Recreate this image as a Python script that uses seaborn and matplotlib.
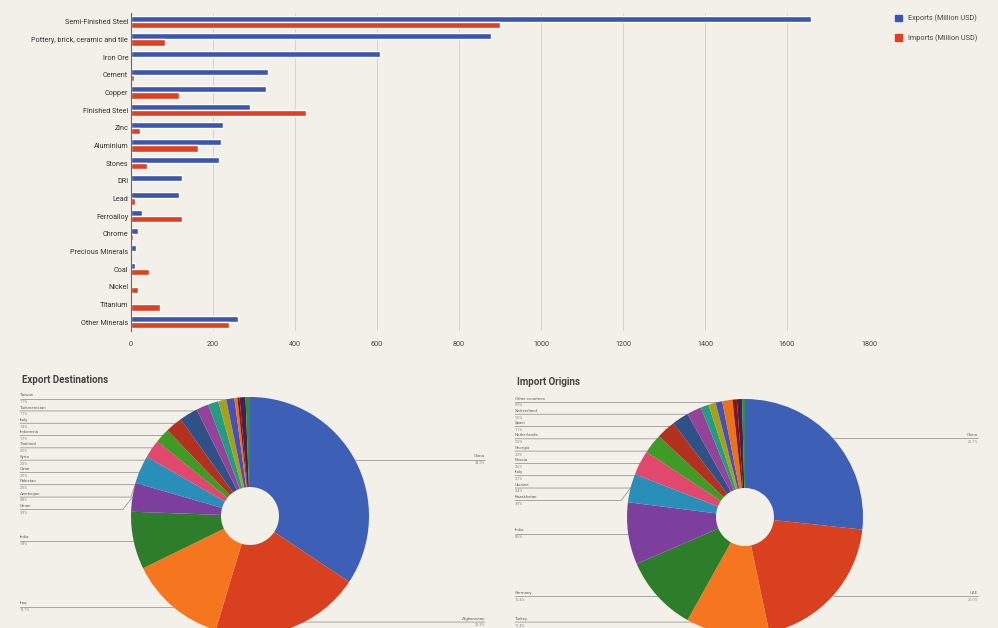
import numpy as np
import pandas as pd
import matplotlib
matplotlib.use("Agg")
import matplotlib.pyplot as plt
from matplotlib.patches import Patch
import seaborn as sns

# --- bar chart data (million USD) ---
minerals = ["Semi-Finished Steel", "Pottery, brick, ceramic and tile", "Iron Ore", "Cement",
            "Copper", "Finished Steel", "Zinc", "Aluminium", "Stones", "DRI", "Lead",
            "Ferroalloy", "Chrome", "Precious Minerals", "Coal", "Nickel", "Titanium",
            "Other Minerals"]
exports_musd = [1658, 878, 607, 334, 329, 290, 224, 219, 215, 124, 117, 27, 17, 12, 10, 0, 0, 261]
imports_musd = [900, 83, 0, 7, 117, 427, 22, 163, 39, 0, 10, 124, 5, 0, 44, 17, 71, 239]
series_names = ["Exports (Million USD)", "Imports (Million USD)"]
x_ticks = [0, 200, 400, 600, 800, 1000, 1200, 1400, 1600, 1800]

# --- pie data (share, %) ---
export_countries = ["China", "Afghanistan", "Iraq", "India", "Oman", "Azerbaijan", "Pakistan",
                    "Qatar", "Syria", "Thailand", "Indonesia", "Italy", "Turkmenistan", "Taiwan",
                    "Armenia", "Kuwait", "Lebanon", "Others"]
export_share = [34.3, 20.3, 13.1, 7.8, 3.9, 3.8, 2.5, 2.0, 2.3, 2.5, 1.7, 1.4, 1.1, 1.1,
                0.4, 0.3, 0.8, 0.6]
import_countries = ["China", "UAE", "Turkey", "Germany", "India", "Kazakhstan", "Ukraine",
                    "Italy", "Russia", "Georgia", "Netherlands", "Spain", "Switzerland",
                    "Other countries", "Brazil", "Japan", "South Korea", "France"]
import_share = [26.7, 20.0, 11.4, 10.4, 8.5, 3.9, 3.4, 2.7, 2.6, 2.3, 2.0, 1.1, 1.0, 0.9,
                1.4, 0.6, 0.7, 0.4]
n_pie_labels = 14

c_exp = "#3b56b0"
c_imp = "#e0401f"
pie_colors = ["#3d5fb5", "#d9401f", "#f5761f", "#2e7d2a", "#7d3f9e", "#2a8fb8", "#e2476e",
              "#3f9a26", "#b3321f", "#2f5187", "#944399", "#249c84", "#a5a21a", "#4a4fb5",
              "#e8731a", "#8b1510", "#4a1d50", "#2f8a4e"]
bg = "#f3f0e9"

sns.set_theme(style="white")
plt.rcParams["font.family"] = ["Roboto", "DejaVu Sans"]

W, H = 998, 628
fig = plt.figure(figsize=(W / 100, H / 100), dpi=100, facecolor=bg)


def px_rect(x0, y0, x1, y1):
    return [x0 / W, 1 - y1 / H, (x1 - x0) / W, (y1 - y0) / H]


# ---------------- bar chart ----------------
ax = fig.add_axes(px_rect(131, 13, 869, 331))
ax.set_facecolor(bg)
df = pd.DataFrame({
    "mineral": minerals * 2,
    "value": exports_musd + imports_musd,
    "series": [series_names[0]] * len(minerals) + [series_names[1]] * len(minerals),
})
sns.barplot(data=df, x="value", y="mineral", hue="series", orient="h",
            palette=[c_exp, c_imp], width=0.7, saturation=1, errorbar=None,
            legend=False, ax=ax)
ax.set_xlim(0, 1800)
ax.set_ylim(len(minerals) - 0.5, -0.5)
ax.set_xticks(x_ticks)
ax.set_xlabel("")
ax.set_ylabel("")
for s in ["top", "right", "bottom"]:
    ax.spines[s].set_visible(False)
ax.spines["left"].set_color("#666666")
ax.spines["left"].set_linewidth(0.8)
ax.grid(axis="x", color="#cfccc5", linewidth=0.55)
ax.set_axisbelow(True)
ax.tick_params(axis="x", length=0, pad=7, labelsize=5.2, labelcolor="#444444")
ax.tick_params(axis="y", length=0, pad=2, labelsize=5.2, labelcolor="#333333")

fig.legend(handles=[Patch(color=c_exp, label=series_names[0]),
                    Patch(color=c_imp, label=series_names[1])],
           loc="upper left", bbox_to_anchor=(888 / W, 1 - 8 / H), frameon=False,
           fontsize=5.2, handlelength=1.0, handleheight=1.0, handletextpad=0.9,
           labelspacing=1.6, labelcolor="#444444")


# ---------------- pies ----------------
def draw_pie(cx, cy, r, x0, x1, lab_l, lab_r, names, shares, title, title_xy):
    # axes spanning pixel box, data units = pie radius
    y0, y1 = 370, H
    pax = fig.add_axes(px_rect(x0, y0, x1, y1))
    pax.pie(shares, colors=pie_colors[:len(shares)], startangle=90, counterclock=False,
            radius=1, wedgeprops=dict(width=1 - 29 / r, linewidth=0, zorder=3))
    xlim = ((x0 - cx) / r, (x1 - cx) / r)
    ylim = (-(y1 - cy) / r, (cy - y0) / r)
    pax.set_xlim(*xlim)
    pax.set_ylim(*ylim)
    pax.set_aspect("auto")
    pax.axis("off")

    total = float(sum(shares))
    cum = np.concatenate([[0], np.cumsum(shares)])
    xl, xr = (lab_l - cx) / r, (lab_r - cx) / r
    bottom = ylim[0] + 0.05
    left, right = [], []
    for i in range(n_pie_labels):
        mid = np.radians((cum[i] + shares[i] / 2) / total * 360)
        px, py = np.sin(mid), np.cos(mid)
        item = (py, px, names[i], shares[i] / total * 100)
        (right if px >= 0 else left).append(item)

    gap = 12.3 / r
    for side, items in (("l", left), ("r", right)):
        items.sort(key=lambda t: -t[0])
        prev = None
        for py, px, name, pct in items:
            y = py if prev is None else min(py, prev - gap)
            y = max(y, bottom)
            prev = y
            if side == "l":
                xs, ys = [xl, px - 0.08, px], [y, y, py]
                tx, ha = xl, "left"
            else:
                xs, ys = [px, px + 0.08, xr], [py, y, y]
                tx, ha = xr, "right"
            pax.plot(xs, ys, color="#8a8884", lw=0.5, zorder=1, clip_on=False)
            pax.text(tx, y + 0.012, name, ha=ha, va="bottom", fontsize=3.2, color="#666666")
            pax.text(tx, y - 0.012, f"{pct:.1f}%", ha=ha, va="top", fontsize=2.8,
                     color="#888888")

    fig.text(title_xy[0] / W, 1 - title_xy[1] / H, title, fontsize=7, fontweight="bold",
             color="#444444", va="center", ha="left")


draw_pie(250, 516, 119, 0, 499, 20, 485, export_countries, export_share,
         "Export Destinations", (22, 380))
draw_pie(745, 517, 118, 499, W, 515, 978, import_countries, import_share,
         "Import Origins", (517, 382))

fig.savefig("out.png", dpi=100, facecolor=bg)
